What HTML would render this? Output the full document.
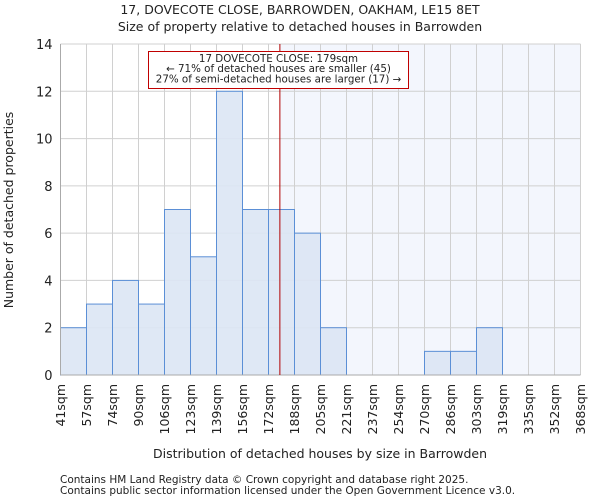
<!DOCTYPE html>
<html><head><meta charset="utf-8"><style>
body{margin:0;background:#fff;font-family:"DejaVu Sans","Liberation Sans",sans-serif;}
svg text{font-family:"DejaVu Sans","Liberation Sans",sans-serif;fill:#222;}
</style></head><body>
<svg id="chart" width="600" height="500" xmlns="http://www.w3.org/2000/svg">
<text x="300" y="14" text-anchor="middle" font-size="12.5">17, DOVECOTE CLOSE, BARROWDEN, OAKHAM, LE15 8ET</text>
<text x="300" y="31" text-anchor="middle" font-size="12.5">Size of property relative to detached houses in Barrowden</text>
<g id="shade"></g><g id="grid"></g><g id="bars"></g><g id="axes"></g>
<text x="320" y="458" text-anchor="middle" font-size="12.5">Distribution of detached houses by size in Barrowden</text>
<text transform="translate(13,210) rotate(-90)" text-anchor="middle" font-size="12.5">Number of detached properties</text>
<text x="60" y="483" font-size="10.5" fill="#444">Contains HM Land Registry data © Crown copyright and database right 2025.</text>
<text x="60" y="494" font-size="10.5" fill="#444">Contains public sector information licensed under the Open Government Licence v3.0.</text>
</svg>
<script>
const binLabels=["41sqm","57sqm","74sqm","90sqm","106sqm","123sqm","139sqm","156sqm","172sqm","188sqm","205sqm","221sqm","237sqm","254sqm","270sqm","286sqm","303sqm","319sqm","335sqm","352sqm","368sqm"];
const binEdges=[41,57,74,90,106,123,139,156,172,188,205,221,237,254,270,286,303,319,335,352,368];
const counts=[2,3,4,3,7,5,12,7,7,6,2,0,0,0,1,1,2,0,0,0];
const yTicks=[0,2,4,6,8,10,12,14];
const propertySize=179;
const NS="http://www.w3.org/2000/svg";
const L=60.5,R=580.5,T=44,B=375,yMax=14;
const n=counts.length,bw=(R-L)/n;
const xi=i=>L+i*bw;
function xv(v){for(let i=0;i<binEdges.length-1;i++){if(v<=binEdges[i+1])return xi(i)+bw*(v-binEdges[i])/(binEdges[i+1]-binEdges[i]);}return R;}
const y=v=>B-(B-T)*v/yMax;
function mk(t,a,p){const e=document.createElementNS(NS,t);for(const k in a)e.setAttribute(k,a[k]);p.appendChild(e);return e;}
const grid=document.getElementById('grid'),shade=document.getElementById('shade'),bars=document.getElementById('bars'),axes=document.getElementById('axes');
yTicks.forEach(t=>{const l=mk('line',{x1:L,x2:R,y1:y(t),y2:y(t),stroke:'#d0d0d0'},grid);


const tx=mk('text',{x:L-8,y:y(t)+5,'text-anchor':'end','font-size':'13'},axes);tx.textContent=t;

});
binLabels.forEach((lab,i)=>{const x=xi(i);const l=mk('line',{x1:x,x2:x,y1:T,y2:B,stroke:'#d0d0d0'},grid);


const tx=mk('text',{transform:`translate(${x+4.5},384) rotate(-90)`,'text-anchor':'end','font-size':'12.5'},axes);tx.textContent=lab;

});
const px=xv(propertySize);
const sh=mk('rect',{x:px,y:T,width:R-px,height:B-T,fill:'#f3f6fd'},shade);


counts.forEach((c,i)=>{if(c<=0)return;const r=mk('rect',{x:xi(i),y:y(c),width:bw,height:B-y(c),fill:'#dce6f4','fill-opacity':0.9,stroke:'#5b8fd6','stroke-width':1},bars);

});
const ax=mk('line',{x1:L,x2:R,y1:B,y2:B,stroke:'#aaa'},axes);


const ay=mk('line',{x1:L,x2:L,y1:T,y2:B,stroke:'#aaa'},axes);


const ml=mk('line',{x1:px,x2:px,y1:T,y2:B,stroke:'#b00000','stroke-width':1},axes);


const bx=mk('rect',{x:148.5,y:51.5,width:260,height:37,fill:'#fff',stroke:'#c00000'},axes);


["17 DOVECOTE CLOSE: 179sqm","← 71% of detached houses are smaller (45)","27% of semi-detached houses are larger (17) →"].forEach((s,i)=>{const t=mk('text',{x:278.5,y:62+i*10.2,'text-anchor':'middle','font-size':'10.3'},axes);t.textContent=s;

});
</script>
</body></html>
